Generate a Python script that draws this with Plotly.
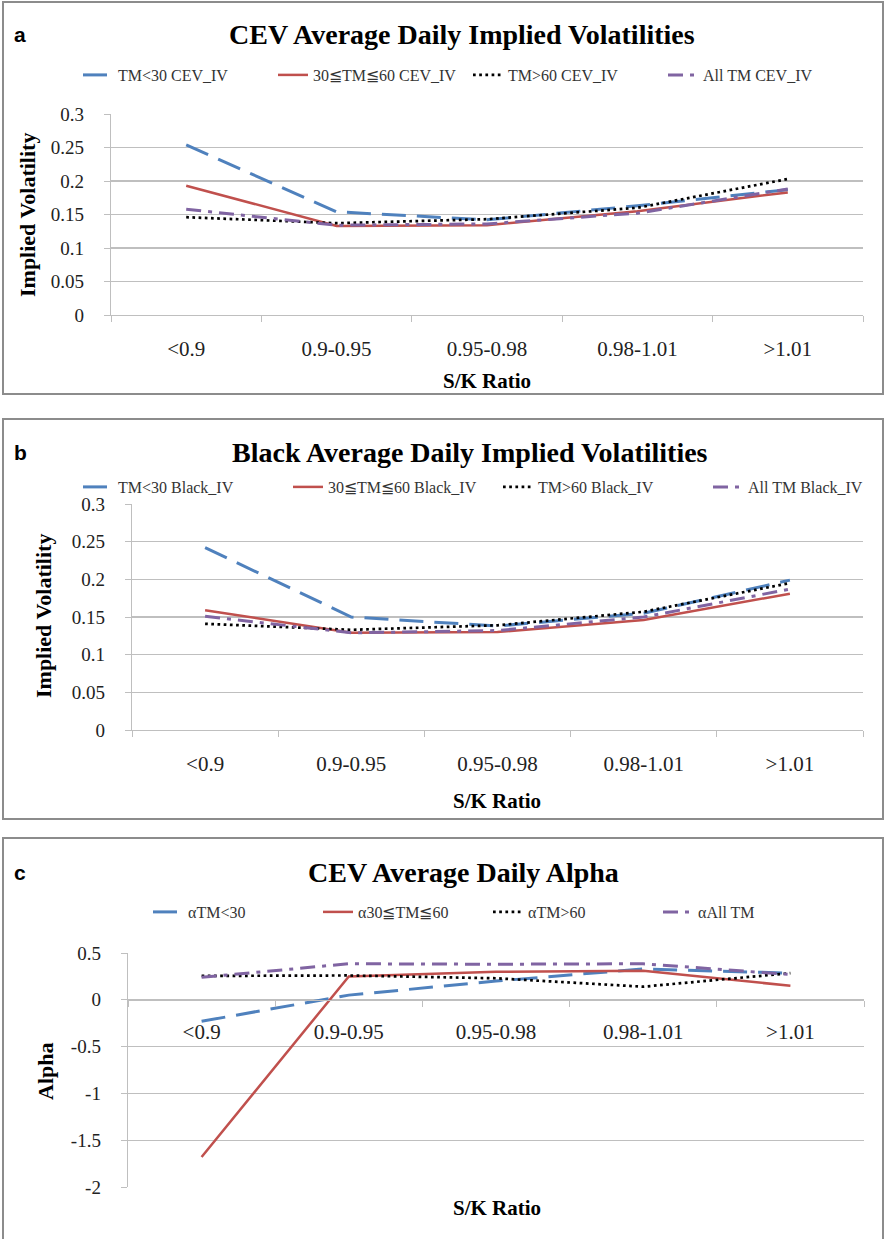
import plotly.graph_objects as go

W, H = 885, 1239

categories = ["<0.9", "0.9-0.95", "0.95-0.98", "0.98-1.01", ">1.01"]

# Panel a: CEV implied volatilities
cev_tm_lt30 = [0.254, 0.154, 0.142, 0.163, 0.187]
cev_tm_30_60 = [0.193, 0.133, 0.134, 0.155, 0.183]
cev_tm_gt60 = [0.146, 0.137, 0.143, 0.160, 0.203]
cev_all_tm = [0.158, 0.134, 0.136, 0.152, 0.188]

# Panel b: Black implied volatilities
blk_tm_lt30 = [0.242, 0.150, 0.138, 0.155, 0.199]
blk_tm_30_60 = [0.159, 0.129, 0.130, 0.146, 0.181]
blk_tm_gt60 = [0.141, 0.133, 0.139, 0.157, 0.195]
blk_all_tm = [0.151, 0.129, 0.132, 0.150, 0.187]

# Panel c: CEV alpha
alpha_tm_lt30 = [-0.23, 0.05, 0.20, 0.33, 0.285]
alpha_tm_30_60 = [-1.68, 0.25, 0.30, 0.31, 0.15]
alpha_tm_gt60 = [0.255, 0.26, 0.23, 0.14, 0.285]
alpha_all_tm = [0.24, 0.385, 0.38, 0.385, 0.27]

iv_tickvals = [0, 0.05, 0.1, 0.15, 0.2, 0.25, 0.3]
iv_ticktext = ["0", "0.05", "0.1", "0.15", "0.2", "0.25", "0.3"]
alpha_tickvals = [-2, -1.5, -1, -0.5, 0, 0.5]
alpha_ticktext = ["-2", "-1.5", "-1", "-0.5", "0", "0.5"]

names_a = ["TM<30 CEV_IV", "30≦TM≦60 CEV_IV", "TM>60 CEV_IV", "All TM CEV_IV"]
names_b = ["TM<30 Black_IV", "30≦TM≦60 Black_IV", "TM>60 Black_IV", "All TM Black_IV"]
names_c = ["αTM<30", "α30≦TM≦60", "αTM>60", "αAll TM"]

BLUE, RED, BLACK, PURPLE = "#4F81BD", "#C0504D", "#000000", "#8064A2"
styles = [
    dict(color=BLUE, width=3, dash="24px,11px"),
    dict(color=RED, width=2.5, dash="solid"),
    dict(color=BLACK, width=2.7, dash="2.7px,3.5px"),
    dict(color=PURPLE, width=3, dash="15px,7px,4px,7px"),
]

SERIF = "Liberation Serif"
SANS = "Liberation Sans"
GRID = "#bfbfbf"


def px(x):
    return x / W


def py(y):
    return 1 - y / H


fig = go.Figure()

panels = [
    ("x", "y", "legend", [cev_tm_lt30, cev_tm_30_60, cev_tm_gt60, cev_all_tm], names_a),
    ("x2", "y2", "legend2", [blk_tm_lt30, blk_tm_30_60, blk_tm_gt60, blk_all_tm], names_b),
    ("x3", "y3", "legend3", [alpha_tm_lt30, alpha_tm_30_60, alpha_tm_gt60, alpha_all_tm], names_c),
]
for xa, ya, lg, series, names in panels:
    for vals, nm, st in zip(series, names, styles):
        fig.add_trace(go.Scatter(
            x=categories, y=vals, name=nm, mode="lines",
            line=st, xaxis=xa, yaxis=ya, legend=lg, hoverinfo="skip",
        ))

ytickfont = dict(family=SERIF, size=19, color="#222222")
xtickfont = dict(family=SERIF, size=21, color="#222222")

xcommon = dict(
    type="category", range=[-0.5, 4.5], tickson="boundaries",
    ticks="outside", ticklen=6, tickcolor=GRID, showline=True,
    linecolor=GRID, linewidth=1.3, showgrid=False, tickfont=xtickfont,
    zeroline=False, fixedrange=True, automargin=False,
)
ycommon = dict(
    ticks="outside", ticklen=6, tickcolor=GRID, showline=True,
    linecolor=GRID, linewidth=1.3, showgrid=True, gridcolor=GRID,
    gridwidth=1.3, zeroline=False, tickfont=ytickfont, fixedrange=True,
    automargin=False, ticklabelstandoff=16,
)

fig.update_layout(
    width=W, height=H, autosize=False,
    margin=dict(l=0, r=0, t=0, b=0, pad=0, autoexpand=False),
    paper_bgcolor="white", plot_bgcolor="white",
    xaxis=dict(**xcommon, domain=[px(111), px(863)], anchor="y", ticklabelstandoff=14),
    yaxis=dict(**ycommon, domain=[py(315), py(114)], anchor="x",
               range=[0, 0.3], tickvals=iv_tickvals, ticktext=iv_ticktext),
    xaxis2=dict(**xcommon, domain=[px(132), px(863)], anchor="y2", ticklabelstandoff=14),
    yaxis2=dict(**ycommon, domain=[py(730), py(504)], anchor="x2",
                range=[0, 0.3], tickvals=iv_tickvals, ticktext=iv_ticktext),
    xaxis3=dict(**xcommon, domain=[px(128), px(864)], anchor="free",
                position=py(1000), ticklabelstandoff=12),
    yaxis3=dict(**ycommon, domain=[py(1187), py(953)], anchor="x3",
                range=[-2, 0.5], tickvals=alpha_tickvals, ticktext=alpha_ticktext),
    showlegend=True,
)

legfont = dict(family=SERIF, size=16, color="#333333")
for key, ycen, ew, textstart in [("legend", 75, 150, 120), ("legend2", 487, 165, 120),
                                 ("legend3", 912, 125, 190)]:
    fig.update_layout({key: dict(
        orientation="h", x=px(textstart - 42), xanchor="left", y=py(ycen), yanchor="middle",
        font=legfont, bgcolor="rgba(0,0,0,0)", itemwidth=30,
        entrywidth=ew, entrywidthmode="pixels", tracegroupgap=0,
    )})

# Panel frames
for y0, y1 in [(2, 394), (419, 819), (838, 1245)]:
    fig.add_shape(type="rect", xref="paper", yref="paper",
                  x0=px(3), x1=px(883), y0=py(y1), y1=py(y0),
                  line=dict(color="#8c8c8c", width=2), fillcolor="rgba(0,0,0,0)")

ann = []
for letter, title, ycen, xt in [("a", "CEV Average Daily Implied Volatilities", 35, 462),
                                ("b", "Black Average Daily Implied Volatilities", 452, 470),
                                ("c", "CEV Average Daily Alpha", 872, 463)]:
    ann.append(dict(text="<b>" + letter + "</b>", x=px(20), y=py(ycen), xref="paper", yref="paper",
                    showarrow=False, font=dict(family=SANS, size=21, color="black"),
                    xanchor="center", yanchor="middle"))
    ann.append(dict(text="<b>" + title + "</b>", x=px(xt), y=py(ycen), xref="paper", yref="paper",
                    showarrow=False, font=dict(family=SERIF, size=28, color="black"),
                    xanchor="center", yanchor="middle"))

for xc, yc in [(487, 381), (497, 801), (497, 1208)]:
    ann.append(dict(text="<b>S/K Ratio</b>", x=px(xc), y=py(yc), xref="paper", yref="paper",
                    showarrow=False, font=dict(family=SERIF, size=21, color="black"),
                    xanchor="center", yanchor="middle"))

for txt, xc, yc in [("Implied Volatility", 27, 215), ("Implied Volatility", 43, 616), ("Alpha", 45, 1072)]:
    ann.append(dict(text="<b>" + txt + "</b>", x=px(xc), y=py(yc), xref="paper", yref="paper",
                    showarrow=False, textangle=-90, font=dict(family=SERIF, size=22, color="black"),
                    xanchor="center", yanchor="middle"))

fig.update_layout(annotations=ann)

fig.write_html(
    "out.html",
    config={"displayModeBar": False, "staticPlot": True},
    post_script="document.body.style.margin='0';document.body.style.overflow='hidden';",
)
